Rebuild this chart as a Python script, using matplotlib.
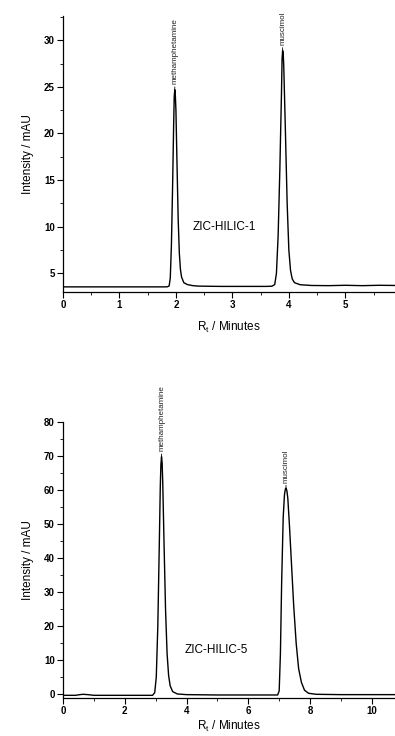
import matplotlib
matplotlib.use("Agg")
import matplotlib.pyplot as plt
from matplotlib.ticker import MultipleLocator, FixedLocator

plt.rcParams["font.family"] = ["Liberation Sans", "DejaVu Sans"]
plt.rcParams["mathtext.fontset"] = "custom"
plt.rcParams["mathtext.rm"] = "Liberation Sans"

# ── ZIC-HILIC-1 trace (time in min, intensity in mAU) ──
t1 = [0.0, 0.5, 1.0, 1.5, 1.80, 1.85, 1.88, 1.90, 1.92, 1.94, 1.96, 1.97, 1.98, 1.99,
      2.00, 2.02, 2.04, 2.06, 2.08, 2.10, 2.14, 2.20, 2.30, 2.40, 2.80, 3.20, 3.60,
      3.70, 3.75, 3.78, 3.81, 3.84, 3.87, 3.88, 3.89, 3.90, 3.91, 3.94, 3.97, 4.00,
      4.03, 4.06, 4.10, 4.20, 4.40, 4.70, 5.00, 5.30, 5.60, 5.90]
i1 = [3.55, 3.55, 3.55, 3.55, 3.55, 3.56, 3.65, 4.5, 8.0, 14.0, 21.0, 24.0, 24.7, 24.0,
      22.5, 16.5, 10.8, 7.2, 5.4, 4.6, 4.0, 3.8, 3.68, 3.63, 3.6, 3.6, 3.6,
      3.62, 3.8, 5.0, 9.0, 16.0, 24.5, 28.0, 28.9, 28.6, 27.2, 20.0, 12.5, 7.5,
      5.3, 4.4, 4.0, 3.78, 3.7, 3.68, 3.72, 3.68, 3.72, 3.7]

# ── ZIC-HILIC-5 trace ──
t5 = [0.0, 0.4, 0.55, 0.65, 0.8, 1.0, 2.0, 2.90, 2.97, 3.02, 3.07, 3.12, 3.15, 3.17,
      3.19, 3.21, 3.23, 3.27, 3.32, 3.37, 3.42, 3.47, 3.55, 3.70, 4.00, 5.00, 6.00,
      6.95, 7.00, 7.04, 7.08, 7.13, 7.17, 7.20, 7.22, 7.25, 7.28, 7.33, 7.40, 7.47,
      7.55, 7.63, 7.72, 7.82, 7.95, 8.20, 9.00, 10.00, 10.75]
i5 = [-0.3, -0.3, -0.1, 0.0, -0.1, -0.3, -0.3, -0.3, 0.5, 5.0, 20.0, 45.0, 61.0, 67.5,
      69.8, 68.0, 62.0, 45.0, 25.0, 12.0, 5.5, 2.5, 0.8, 0.1, -0.1, -0.2, -0.2,
      -0.2, 1.0, 12.0, 33.0, 52.0, 58.5, 60.3, 60.6, 59.8, 57.5, 50.0, 38.0, 26.0,
      15.0, 7.5, 3.5, 1.2, 0.3, 0.0, -0.1, -0.1, -0.1]

# peak labels: (time, apex intensity, name)
peaks1 = [(1.98, 24.7, "methamphetamine"), (3.89, 28.9, "muscimol")]
peaks5 = [(3.19, 69.8, "methamphetamine"), (7.22, 60.6, "muscimol")]

W, H = 395, 736
fig = plt.figure(figsize=(W / 100, H / 100), dpi=100)


def style_axes(ax):
    for s in ("top", "right"):
        ax.spines[s].set_visible(False)
    for s in ("left", "bottom"):
        ax.spines[s].set_linewidth(0.9)
    ax.tick_params(which="major", direction="out", length=4, width=0.8,
                   labelsize=7, pad=2)
    ax.tick_params(which="minor", direction="out", length=2.5, width=0.6)
    for lab in ax.get_xticklabels() + ax.get_yticklabels():
        lab.set_fontweight("bold")


def panel(rect, t, y, xlim, ylim, xmaj, ymaj, peaks, name, name_xy, off, xpad):
    ax = fig.add_axes(rect)
    ax.plot(t, y, color="black", lw=1.0)
    ax.xaxis.set_major_locator(MultipleLocator(xmaj))
    ax.xaxis.set_minor_locator(MultipleLocator(xmaj / 2))
    start = ymaj if ylim[0] > 0 else 0
    yt = [start + k * ymaj for k in range(int((ylim[1] - start) / ymaj) + 1)]
    ax.yaxis.set_major_locator(FixedLocator(yt))
    ax.yaxis.set_minor_locator(MultipleLocator(ymaj / 2))
    ax.set_xlim(*xlim)
    ax.set_ylim(*ylim)
    style_axes(ax)
    ax.set_ylabel("Intensity / mAU", fontsize=8.5, labelpad=7)
    ax.set_xlabel(r"R$_\mathregular{t}$ / Minutes", fontsize=8.5, labelpad=xpad)
    ax.text(name_xy[0], name_xy[1], name, fontsize=8.5, ha="left", va="center")
    for pt, py, pname in peaks:
        ax.annotate(pname, xy=(pt, py + off * 0.1), xytext=(pt, py + off),
                    rotation=90, fontsize=5.8, ha="center", va="bottom",
                    color="#222222",
                    arrowprops=dict(arrowstyle="-", lw=0.6, color="black",
                                    shrinkA=0, shrinkB=0))
    return ax


panel([63 / W, 1 - 292 / H, 1 - 63 / W, (292 - 16) / H], t1, i1,
      (0, 5.88), (3.0, 32.6), 1, 5, peaks1, "ZIC-HILIC-1", (2.3, 10.0), 0.6, 7)
panel([63 / W, 1 - 697.7 / H, 1 - 63 / W, (697.7 - 422) / H], t5, i5,
      (0, 10.75), (-1.0, 80), 2, 10, peaks5, "ZIC-HILIC-5", (3.95, 13.0), 1.6, 2)

fig.savefig("out.png", dpi=100)
